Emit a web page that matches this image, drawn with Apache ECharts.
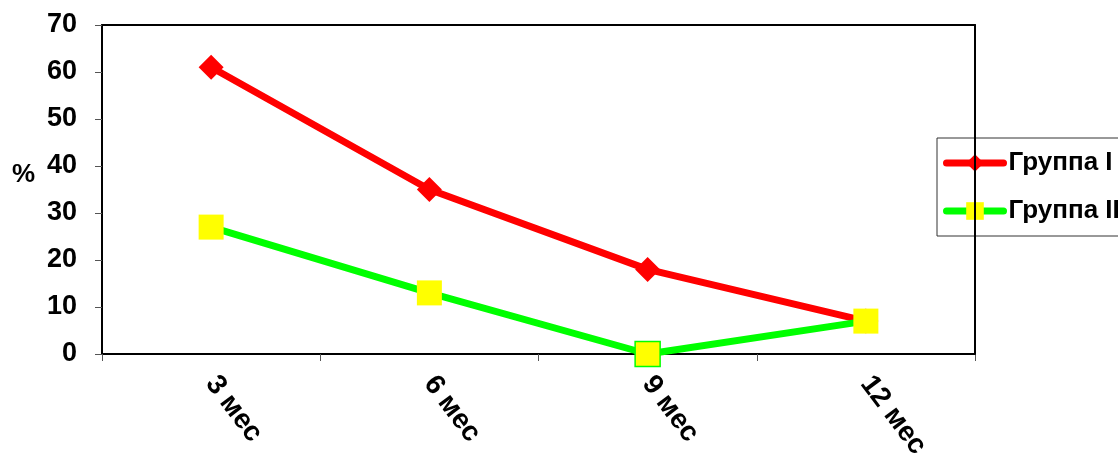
<!DOCTYPE html>
<html>
<head>
<meta charset="utf-8">
<script src="https://cdn.jsdelivr.net/npm/echarts@6/dist/echarts.min.js"></script>
<style>
  html, body { margin: 0; padding: 0; background: #fff; }
  #chart { width: 1118px; height: 463px; }
</style>
</head>
<body>
<div id="chart"></div>
<script>
// Months after treatment
var categories = ['3 мес', '6 мес', '9 мес', '12 мес'];
// Share of patients, %
var groupI = [61, 35, 18, 7];
var groupII = [27, 13, 0, 7];
var seriesNames = ['Группа I', 'Группа II'];
var yTicks = { min: 0, max: 70, interval: 10 };

var FONT = '"Liberation Sans", Arial, sans-serif';

var chart = echarts.init(document.getElementById('chart'), null, { renderer: 'canvas' });

chart.setOption({
  animation: false,
  backgroundColor: '#ffffff',
  grid: { left: 102, right: 143, top: 25, bottom: 109, show: false },
  legend: {
    orient: 'vertical',
    left: 937,
    top: 138,
    padding: [12, 40, 12, 6],
    itemWidth: 57,
    itemHeight: 22,
    itemGap: 22,
    borderColor: '#333',
    borderWidth: 1,
    lineStyle: { width: 7, cap: 'round' },
    textStyle: { fontFamily: FONT, fontWeight: 'bold', fontSize: 26, color: '#000' },
    data: seriesNames
  },
  xAxis: [{
    type: 'category',
    data: categories,
    boundaryGap: true,
    axisLine: { onZero: false, lineStyle: { color: '#000', width: 2 } },
    axisTick: { show: true, length: 7, inside: false, lineStyle: { color: '#555', width: 1 } },
    axisLabel: {
      rotate: -53,
      margin: 25,
      fontFamily: FONT, fontWeight: 'bold', fontSize: 28, color: '#000'
    },
    splitLine: { show: false }
  }, {
    type: 'category',
    data: categories,
    position: 'top',
    axisLine: { onZero: false, lineStyle: { color: '#000', width: 2 } },
    axisTick: { show: false },
    axisLabel: { show: false },
    splitLine: { show: false }
  }],
  yAxis: [{
    type: 'value',
    min: yTicks.min,
    max: yTicks.max,
    interval: yTicks.interval,
    name: '%',
    nameLocation: 'middle',
    nameRotate: 0,
    nameGap: 67,
    nameTextStyle: {
      fontFamily: FONT, fontWeight: 'bold', fontSize: 26, color: '#000',
      verticalAlign: 'bottom',
      padding: [0, 0, 2, 0]
    },
    axisLine: { show: true, onZero: false, lineStyle: { color: '#000', width: 2 } },
    axisTick: { show: true, length: 7, lineStyle: { color: '#555', width: 1 } },
    axisLabel: { margin: 25, fontFamily: FONT, fontWeight: 'bold', fontSize: 27, color: '#000' },
    splitLine: { show: false }
  }, {
    type: 'value',
    min: yTicks.min,
    max: yTicks.max,
    interval: yTicks.interval,
    position: 'right',
    z: 10,
    axisLine: { show: true, onZero: false, lineStyle: { color: '#000', width: 2 } },
    axisTick: { show: false },
    axisLabel: { show: false },
    splitLine: { show: false }
  }],
  series: [{
    name: seriesNames[0],
    type: 'line',
    data: groupI,
    symbol: 'diamond',
    symbolSize: 25,
    lineStyle: { color: '#ff0000', width: 7, cap: 'round' },
    itemStyle: { color: '#ff0000' },
    z: 2
  }, {
    name: seriesNames[1],
    type: 'line',
    data: groupII.map(function (v) {
      return v === 0 ? { value: v, itemStyle: { borderColor: '#00ff00', borderWidth: 1.5 } } : v;
    }),
    symbol: 'rect',
    symbolSize: 25,
    lineStyle: { color: '#00ff00', width: 7, cap: 'round' },
    itemStyle: { color: '#ffff00' },
    z: 3
  }]
});
</script>
</body>
</html>
